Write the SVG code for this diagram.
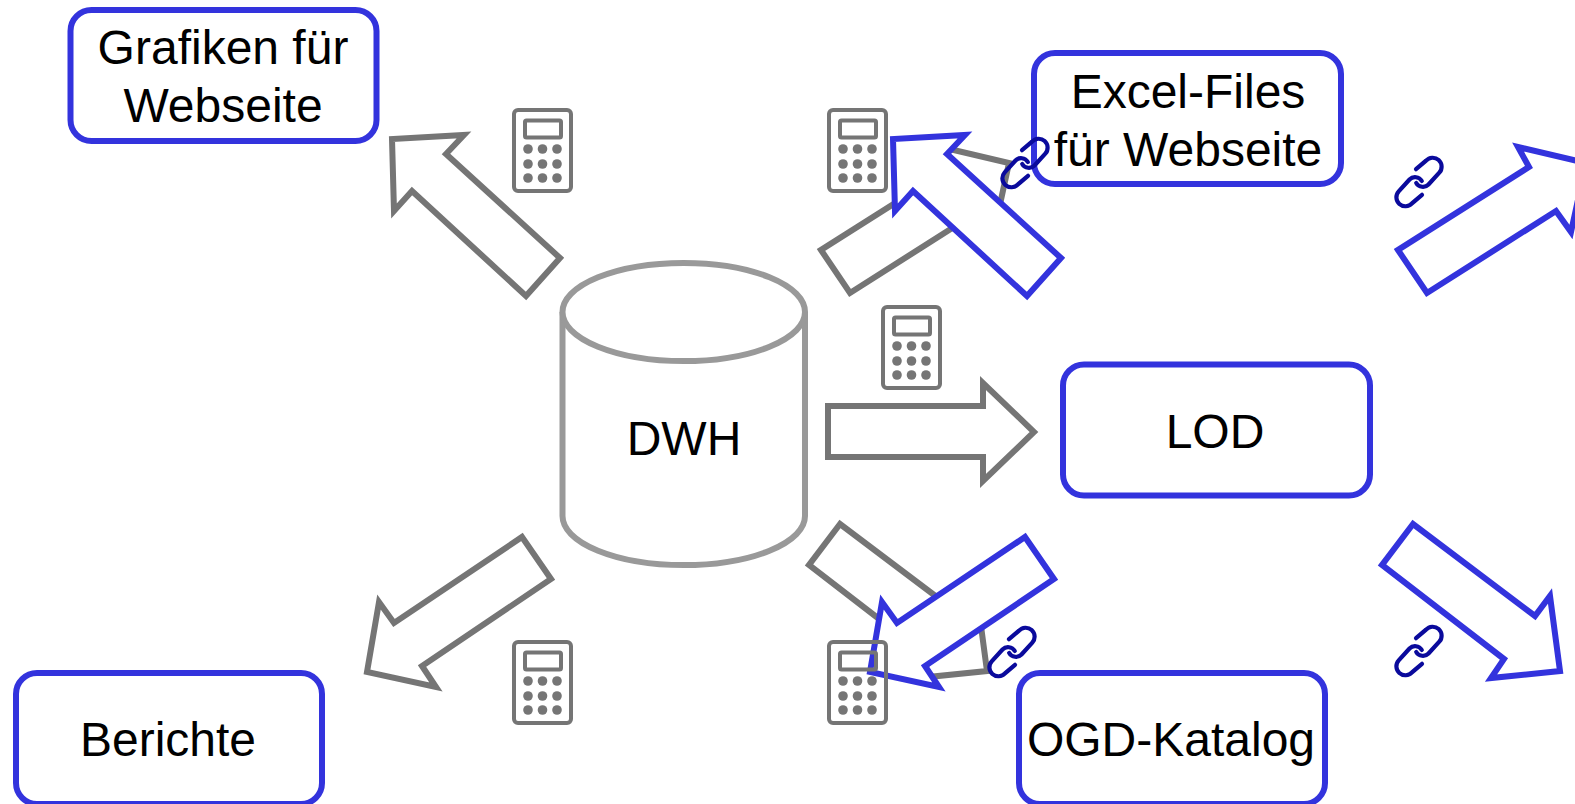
<svg xmlns="http://www.w3.org/2000/svg" width="1575" height="804" viewBox="0 0 1575 804">
<style>
.box{fill:#fff;stroke:#3333dd;stroke-width:6}
.ga{fill:#fff;stroke:#757575;stroke-width:6}
.ba{fill:#fff;stroke:#3333dd;stroke-width:6}
.cyl{fill:#fff;stroke:#999;stroke-width:6}
.t{font-family:"Liberation Sans",Arial,sans-serif;font-size:48px;fill:#000;text-anchor:middle}
.ln{fill:none;stroke:#0a0a9c;stroke-width:4.2;stroke-linecap:round}
</style>
<defs>
<g id="calc">
<rect x="2" y="2" width="57" height="81" rx="4" fill="none" stroke="#757575" stroke-width="4"/>
<rect x="13" y="12.500" width="36" height="17" rx="1.500" fill="none" stroke="#757575" stroke-width="4"/>
<g fill="#757575"><circle cx="16" cy="41" r="4.800"/><circle cx="30.500" cy="41" r="4.800"/><circle cx="45" cy="41" r="4.800"/><circle cx="16" cy="56" r="4.800"/><circle cx="30.500" cy="56" r="4.800"/><circle cx="45" cy="56" r="4.800"/><circle cx="16" cy="70" r="4.800"/><circle cx="30.500" cy="70" r="4.800"/><circle cx="45" cy="70" r="4.800"/></g>
</g>
<g id="link">
<path class="ln" d="M-3-12.800L7-21.300A8.800 8.800 0 0 1 20.300-9.300L9.500 2.500A7.800 7.800 0 0 1-2.800 1"/>
<path class="ln" transform="rotate(180)" d="M-3-12.800L7-21.300A8.800 8.800 0 0 1 20.300-9.300L9.500 2.500A7.800 7.800 0 0 1-2.800 1"/>
</g>
</defs>
<g id="connectors">
<polygon class="ga" points="947,154 1061,258 1027,296 913,191 895,211 893,139 965,135" transform="translate(-501,0)"/>
<polygon class="ga" points="821,250 850,293 979,211 994,232 1009,163 941,147 952,167"/>
<polygon class="ga" points="828,406 983,406 983,383 1034,432 983,481 983,457 828,457"/>
<polygon class="ga" points="1025,537 1054,579 925,666 939,687 870,672 882,602 897,623" transform="translate(-503,0)"/>
<polygon class="ga" points="1413,524 1382,565 1504,659 1491,678 1560,671 1550,596 1535,616" transform="translate(-573,0)"/>
<polygon class="ba" points="947,154 1061,258 1027,296 913,191 895,211 893,139 965,135"/>
<polygon class="ba" points="1025,537 1054,579 925,666 939,687 870,672 882,602 897,623"/>
<polygon class="ba" points="821,250 850,293 979,211 994,232 1009,163 941,147 952,167" transform="translate(577,0)"/>
<polygon class="ba" points="1413,524 1382,565 1504,659 1491,678 1560,671 1550,596 1535,616"/>
</g>
<g id="dwh">
<path class="cyl" d="M562.500 312V516A121 49 0 0 0 805 516V312A121 49 0 0 0 562.500 312Z"/>
<path class="cyl" fill="none" d="M562.500 312A121 49 0 0 0 805 312"/>
<text class="t" x="684" y="455">DWH</text>
</g>
<g id="grafiken"><rect class="box" x="70.500" y="10" width="306" height="131" rx="21"/><text class="t" x="223" y="64">Grafiken für</text><text class="t" x="223" y="122">Webseite</text></g>
<g id="excel"><rect class="box" x="1034" y="53" width="307" height="131" rx="21"/><text class="t" x="1188" y="108">Excel-Files</text><text class="t" x="1188" y="166">für Webseite</text></g>
<g id="lod"><rect class="box" x="1063" y="364.500" width="307" height="131" rx="21"/><text class="t" x="1215" y="448">LOD</text></g>
<g id="berichte"><rect class="box" x="16" y="673" width="306" height="131" rx="21"/><text class="t" x="168" y="756">Berichte</text></g>
<g id="ogd"><rect class="box" x="1019" y="673" width="306" height="131" rx="21"/><text class="t" x="1171" y="756">OGD-Katalog</text></g>
<g id="calcs">
<use href="#calc" x="512" y="108"/><use href="#calc" x="827" y="108"/><use href="#calc" x="881" y="305"/><use href="#calc" x="512" y="640"/><use href="#calc" x="827" y="640"/>
</g>
<g id="links">
<use href="#link" x="1025" y="163"/><use href="#link" x="1419" y="182"/><use href="#link" x="1012" y="652"/><use href="#link" x="1419" y="651"/>
</g>
</svg>
